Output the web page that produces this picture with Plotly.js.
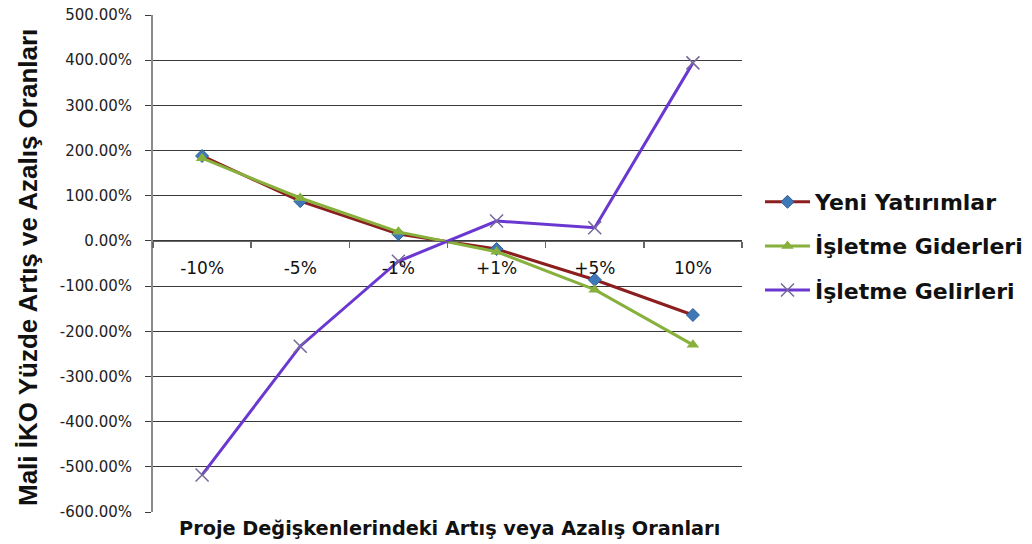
<!DOCTYPE html>
<html>
<head>
<meta charset="utf-8">
<script src="https://cdn.plot.ly/plotly-3.0.1.min.js"></script>
<style>
html,body{margin:0;padding:0;background:#fff;}
#chart{width:1032px;height:544px;}
</style>
</head>
<body>
<div id="chart"></div>
<script>
const categories = ["-10%", "-5%", "-1%", "+1%", "+5%", "10%"];
const seriesNames = ["Yeni Yatırımlar", "İşletme Giderleri", "İşletme Gelirleri"];
const yeniYatirimlar = [188, 88, 15, -18, -86, -164];
const isletmeGiderleri = [183, 95, 20, -24, -108, -230];
const isletmeGelirleri = [-518, -233, -45, 44, 29, 394];
const yTickVals = [-600, -500, -400, -300, -200, -100, 0, 100, 200, 300, 400, 500];
const yTickText = yTickVals.map(v => v.toFixed(2) + '%');

const traces = [
  {
    x: categories, y: yeniYatirimlar, name: seriesNames[0], type: 'scatter', mode: 'lines+markers',
    line: {color: '#8b1e1e', width: 3},
    marker: {symbol: 'diamond', size: 10, color: '#3f78b8', line: {color: '#2d5f95', width: 1}},
    legendgroup: 'a'
  },
  {
    x: categories, y: isletmeGiderleri, name: seriesNames[1], type: 'scatter', mode: 'lines+markers',
    line: {color: '#88b03c', width: 3},
    marker: {symbol: 'triangle-up', size: 11, color: '#88b03c'},
    legendgroup: 'b'
  },
  {
    x: categories, y: isletmeGelirleri, name: seriesNames[2], type: 'scatter', mode: 'lines+markers',
    line: {color: '#6a38d0', width: 3},
    marker: {symbol: 'x-thin-open', size: 13, color: '#75689a', line: {color: '#75689a', width: 1.5}},
    legendgroup: 'c'
  }
];

const layout = {
  width: 1032, height: 544,
  margin: {l: 153, r: 290, t: 15, b: 32, autoexpand: false},
  paper_bgcolor: '#fff', plot_bgcolor: '#fff',
  showlegend: true,
  legend: {
    xref: 'container', yref: 'container',
    x: 760 / 1032, xanchor: 'left', y: 1 - 181 / 544, yanchor: 'top',
    font: {family: 'DejaVu Sans', size: 22, color: '#111', weight: 'bold'},
    tracegroupgap: 12.5, itemwidth: 45, bgcolor: 'rgba(0,0,0,0)'
  },
  xaxis: {
    type: 'category', range: [-0.5, 5.5],
    anchor: 'free', position: 600/1100,
    showgrid: false, zeroline: false,
    showline: true, linecolor: '#666', linewidth: 1,
    ticks: 'outside', tickson: 'boundaries', ticklen: 6, tickcolor: '#666', tickwidth: 1.5,
    tickfont: {family: 'DejaVu Sans', size: 17, color: '#111'},
    ticklabelstandoff: 12
  },
  yaxis: {
    range: [-600, 500], tickvals: yTickVals, ticktext: yTickText,
    showgrid: true, gridcolor: '#3a3a3a', gridwidth: 1,
    zeroline: false,
    showline: true, linecolor: '#8a8a8a', linewidth: 2,
    ticks: 'outside', ticklen: 6, tickcolor: '#3a3a3a', tickwidth: 1,
    tickfont: {family: 'DejaVu Sans', size: 15, color: '#222'},
    ticklabelstandoff: 10
  },
  annotations: [
    {
      text: 'Mali İKO Yüzde Artış ve Azalış Oranları',
      xref: 'paper', yref: 'paper', x: (28 - 153) / 589, y: (512 - 268) / 497,
      xanchor: 'center', yanchor: 'middle', textangle: -90, showarrow: false,
      font: {family: 'Liberation Sans', size: 26, color: '#111', weight: 'bold'}
    },
    {
      text: 'Proje Değişkenlerindeki Artış veya Azalış Oranları',
      xref: 'paper', yref: 'paper', x: (449 - 153) / 589, y: (512 - 528) / 497,
      xanchor: 'center', yanchor: 'middle', showarrow: false,
      font: {family: 'DejaVu Sans', size: 19.3, color: '#111', weight: 'bold'}
    }
  ]
};

Plotly.newPlot('chart', traces, layout, {displayModeBar: false, staticPlot: true});
</script>
</body>
</html>
